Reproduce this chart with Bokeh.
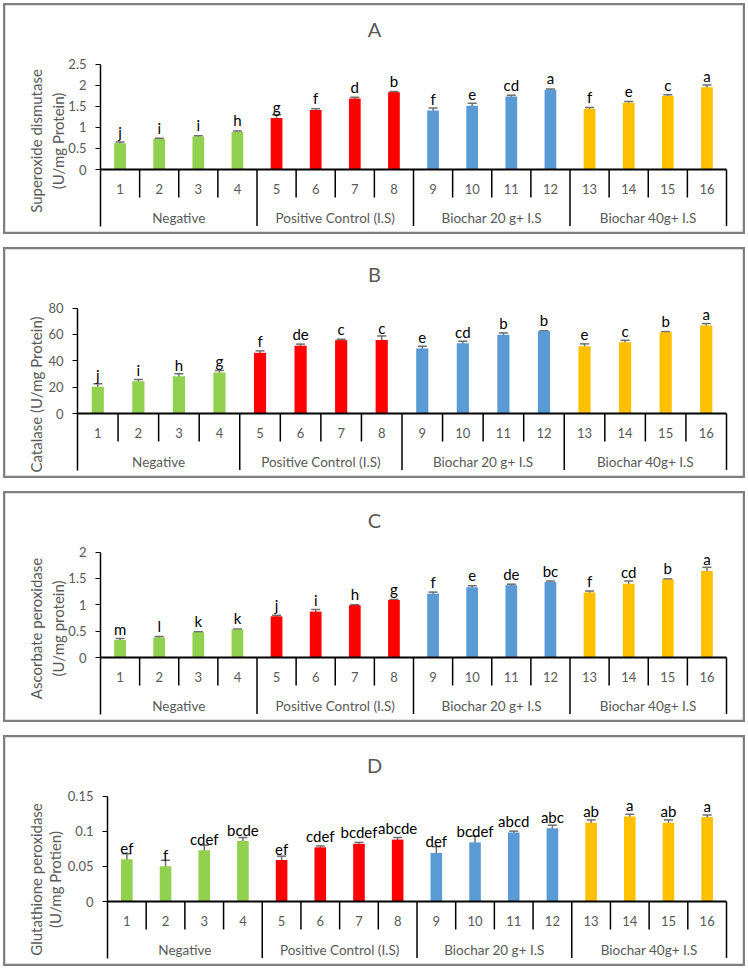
import math
from bokeh.plotting import figure
from bokeh.layouts import column
from bokeh.models import ColumnDataSource, FixedTicker, Whisker, TeeHead
from bokeh.embed import file_html
from bokeh.resources import INLINE
from bokeh.core.properties import value

# ---------------- data ----------------
treatments = ["1", "2", "3", "4", "5", "6", "7", "8",
              "9", "10", "11", "12", "13", "14", "15", "16"]
groups = ["Negative", "Positive Control (I.S)", "Biochar 20 g+ I.S", "Biochar 40g+ I.S"]
group_colors = ["#92D050", "#FF0000", "#5B9BD5", "#FFC000"]

sod = [0.62, 0.72, 0.78, 0.89, 1.22, 1.41, 1.68, 1.83,
       1.40, 1.51, 1.73, 1.89, 1.44, 1.58, 1.74, 1.95]
sod_err = [0.03, 0.02, 0.02, 0.02, 0.08, 0.03, 0.03, 0.02,
           0.06, 0.06, 0.03, 0.02, 0.03, 0.03, 0.03, 0.05]
sod_letters = ["j", "i", "i", "h", "g", "f", "d", "b",
               "f", "e", "cd", "a", "f", "e", "c", "a"]

cat = [20.2, 24.5, 28.3, 31.1, 46.0, 51.3, 55.6, 55.8,
       49.2, 53.3, 59.8, 62.4, 51.0, 54.0, 61.6, 66.7]
cat_err = [2.4, 1.2, 1.8, 1.5, 1.5, 1.3, 0.7, 3.0,
           1.8, 1.5, 1.3, 0.3, 1.8, 1.5, 0.5, 1.5]
cat_letters = ["j", "i", "h", "g", "f", "de", "c", "c",
               "e", "cd", "b", "b", "e", "c", "b", "a"]

apx = [0.33, 0.38, 0.48, 0.53, 0.78, 0.87, 0.99, 1.09,
       1.21, 1.33, 1.37, 1.43, 1.23, 1.40, 1.48, 1.64]
apx_err = [0.03, 0.02, 0.01, 0.01, 0.02, 0.04, 0.01, 0.01,
           0.03, 0.03, 0.02, 0.02, 0.03, 0.05, 0.01, 0.07]
apx_letters = ["m", "l", "k", "k", "j", "i", "h", "g",
               "f", "e", "de", "bc", "f", "cd", "b", "a"]

gpx = [0.060, 0.050, 0.073, 0.086, 0.059, 0.077, 0.082, 0.088,
       0.069, 0.084, 0.098, 0.104, 0.112, 0.121, 0.112, 0.120]
gpx_err = [0.008, 0.0085, 0.007, 0.005, 0.0055, 0.002, 0.002, 0.003,
           0.009, 0.009, 0.002, 0.0045, 0.004, 0.003, 0.004, 0.003]
gpx_letters = ["ef", "f", "cdef", "bcde", "ef", "cdef", "bcdef", "abcde",
               "def", "bcdef", "abcd", "abc", "ab", "a", "ab", "a"]

sod_ticks = [0, 0.5, 1, 1.5, 2, 2.5]
sod_tick_labels = ["0", "0.5", "1", "1.5", "2", "2.5"]
cat_ticks = [0, 20, 40, 60, 80]
cat_tick_labels = ["0", "20", "40", "60", "80"]
apx_ticks = [0, 0.5, 1, 1.5, 2]
apx_tick_labels = ["0", "0.5", "1", "1.5", "2"]
gpx_ticks = [0, 0.05, 0.1, 0.15]
gpx_tick_labels = ["0", "0.05", "0.1", "0.15"]

# ---------------- styling / layout (pixels inside each panel) ----------------
FONT = "Lato"
GRAY_TXT = "#595959"
ERR_COL = "#6E6E6E"
W, H = 742, 231
RIGHT_PX = 723          # right end of category axis
TOPTICK_PX, ZERO_PX = 60.5, 166
NUM_PX, GROUP_PX, SHORT_SEP_PX, LONG_SEP_PX = 185.5, 214, 194, 222.5
TITLE_X_PX = 371
N = len(treatments)
xs = list(range(1, N + 1))
per_group = N // len(groups)
bar_colors = [group_colors[i // per_group] for i in range(N)]


def panel(title, title_y_px, ylabel_lines, ylabel_x_px, ylabel_y_px, vals, errs, letters,
          ticks, tick_labels, axis_px):
    T = ticks[-1]
    u = (RIGHT_PX - axis_px) / N              # pixels per category
    k = (ZERO_PX - TOPTICK_PX) / T            # pixels per data unit
    x0 = 0.5 - axis_px / u
    x1 = N + 0.5 + (W - RIGHT_PX) / u
    y1 = T + TOPTICK_PX / k
    y0 = -(H - ZERO_PX) / k
    px2x = lambda px: x0 + px / u
    px2y = lambda py: y1 - py / k

    p = figure(width=W, height=H, x_range=(x0, x1), y_range=(y0, y1),
               output_backend="svg", toolbar_location=None, x_axis_location=None,
               min_border=0)
    p.title.visible = False
    p.background_fill_color = None
    p.border_fill_color = None
    p.outline_line_color = "#7F7F7F"
    p.outline_line_width = 3.5
    p.xgrid.visible = False
    p.ygrid.visible = False

    # y axis drawn at the left edge of the category axis
    ax = p.yaxis[0]
    ax.fixed_location = 0.5
    ax.ticker = FixedTicker(ticks=ticks)
    ax.major_label_overrides = {t: l for t, l in zip(ticks, tick_labels)}
    ax.bounds = (px2y(LONG_SEP_PX), T)
    ax.axis_line_color = "black"
    ax.axis_line_width = 1.5
    ax.major_tick_line_color = "black"
    ax.major_tick_out = 5
    ax.major_tick_in = 0
    ax.minor_tick_line_color = None
    ax.major_label_text_font = FONT
    ax.major_label_text_font_size = "13px"
    ax.major_label_text_color = GRAY_TXT
    ax.major_label_standoff = 9

    # chart title
    p.text(x=[px2x(TITLE_X_PX)], y=[px2y(title_y_px)], text=[title],
           text_align="center", text_baseline="middle", text_font=value(FONT),
           text_font_size="20px", text_color=GRAY_TXT)
    # y-axis title (one glyph per line, centred on the plot area)
    p.text(x=[px2x(v) for v in ylabel_x_px], y=[px2y(ylabel_y_px)] * len(ylabel_lines),
           text=ylabel_lines, angle=math.pi / 2, text_align="center",
           text_baseline="middle", text_font=value(FONT), text_font_size="15px",
           text_color=GRAY_TXT)

    src = ColumnDataSource(dict(
        x=xs, top=vals, color=bar_colors,
        upper=[v + e for v, e in zip(vals, errs)],
        lower=[v - e for v, e in zip(vals, errs)],
        ly=[v + 11.5 / k for v in vals], letters=letters))

    p.vbar(x="x", top="top", bottom=0, width=0.30, fill_color="color",
           line_color=None, source=src)
    wh = Whisker(source=src, base="x", upper="upper", lower="lower",
                 line_color=ERR_COL, line_width=1.5,
                 upper_head=TeeHead(size=9, line_color=ERR_COL, line_width=1.5),
                 lower_head=TeeHead(size=9, line_color=ERR_COL, line_width=1.5))
    p.add_layout(wh)
    p.text(x="x", y="ly", text="letters", source=src, text_align="center",
           text_baseline="alphabetic", text_font=value(FONT),
           text_font_size="15px", text_color="black")

    # category axis: baseline, separators, labels
    p.segment(x0=[0.5], x1=[N + 0.5], y0=[0], y1=[0], line_color="black", line_width=2)
    short_x, long_x = [], []
    for i in range(1, N + 1):
        (long_x if i % per_group == 0 else short_x).append(i + 0.5)
    p.segment(x0=short_x, x1=short_x, y0=[0] * len(short_x),
              y1=[px2y(SHORT_SEP_PX)] * len(short_x), line_color="black", line_width=1.5)
    p.segment(x0=long_x, x1=long_x, y0=[0] * len(long_x),
              y1=[px2y(LONG_SEP_PX)] * len(long_x), line_color="black", line_width=1.5)
    p.text(x=xs, y=[px2y(NUM_PX)] * N, text=treatments, text_align="center",
           text_baseline="middle", text_font=value(FONT), text_font_size="13px",
           text_color=GRAY_TXT)
    gx = [sum(xs[g * per_group:(g + 1) * per_group]) / per_group for g in range(len(groups))]
    p.text(x=gx, y=[px2y(GROUP_PX)] * len(groups), text=groups, text_align="center",
           text_baseline="middle", text_font=value(FONT), text_font_size="13.5px",
           text_color=GRAY_TXT)
    return p


pA = panel("A", 25.5, ["Superoxide dismutase", "(U/mg Protein)"], [32, 54], 137.5,
           sod, sod_err, sod_letters, sod_ticks, sod_tick_labels, 97)
pB = panel("B", 26, ["Catalase (U/mg Protein)"], [32], 147,
           cat, cat_err, cat_letters, cat_ticks, cat_tick_labels, 74)
pC = panel("C", 28, ["Ascorbate peroxidase", "(U/mg protein)"], [32, 54], 137,
           apx, apx_err, apx_letters, apx_ticks, apx_tick_labels, 97)
pD = panel("D", 29, ["Glutathione peroxidase", "(U/mg Protien)"], [32, 51], 144,
           gpx, gpx_err, gpx_letters, gpx_ticks, gpx_tick_labels, 104)

layout = column(pA, pB, pC, pD, spacing=13,
                styles={"margin-left": "3px", "margin-top": "3px"})
open("out.html", "w").write(file_html(layout, INLINE))
